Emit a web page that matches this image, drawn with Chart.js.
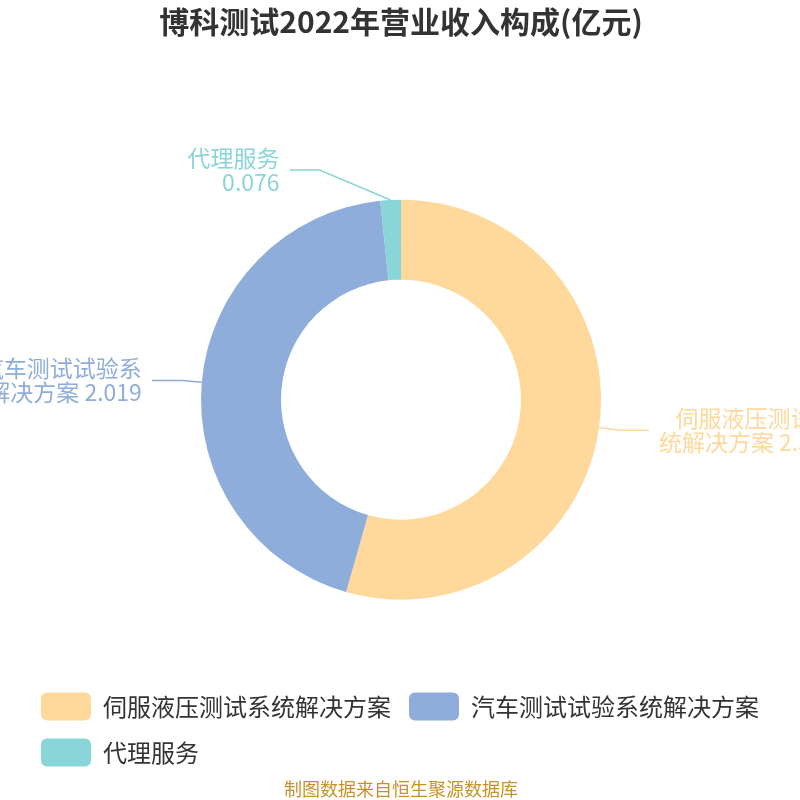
<!DOCTYPE html>
<html>
<head>
<meta charset="utf-8">
<script src="https://cdn.jsdelivr.net/npm/chart.js@4.4.1/dist/chart.umd.min.js"></script>
<style>
    html, body { margin: 0; padding: 0; background: #fff; }
    #wrap { width: 800px; height: 800px; }
</style>
</head>
<body>
<div id="wrap"><canvas id="revenueChart"></canvas></div>
<script>
// Revenue breakdown, 100 million yuan
const categories = ['伺服液压测试系统解决方案', '汽车测试试验系统解决方案', '代理服务'];
const revenue = [2.502, 2.019, 0.076];

const sliceColors = ['#FFD99B', '#8EADDB', '#89D5D8'];
const FONT = '"Noto Sans CJK SC", "Noto Sans", sans-serif';

Chart.defaults.font.family = FONT;

// long names break every 7 chars, value follows on the last line;
// short names get the value on its own line
function labelLines(name, value) {
    if (name.length <= 7) return [name, value];
    const lines = [];
    for (let i = 0; i < name.length; i += 7) lines.push(name.slice(i, i + 7));
    lines[lines.length - 1] += ' ' + value;
    return lines;
}

// outside labels with elbow leader lines
const sliceLabels = {
    id: 'sliceLabels',
    afterDatasetsDraw(chart, args, opts) {
        const ctx = chart.ctx;
        const meta = chart.getDatasetMeta(0);
        const values = chart.data.datasets[0].data;
        ctx.save();
        ctx.font = opts.fontSize + 'px ' + FONT;
        ctx.textBaseline = 'middle';
        meta.data.forEach((arc, i) => {
            const p = arc.getProps(['x', 'y', 'startAngle', 'endAngle', 'outerRadius'], true);
            const mid = (p.startAngle + p.endAngle) / 2;
            const cos = Math.cos(mid), sin = Math.sin(mid);
            const nudge = opts.nudge[i] || { dx: 0, dy: 0 };
            const x0 = p.x + cos * p.outerRadius;
            const y0 = p.y + sin * p.outerRadius;
            const x1 = p.x + cos * (p.outerRadius + opts.len1) + nudge.dx;
            const y1 = p.y + sin * (p.outerRadius + opts.len1) + nudge.dy;
            const side = cos >= 0 ? 1 : -1;
            const x2 = x1 + side * opts.len2;
            const color = sliceColors[i];

            ctx.strokeStyle = color;
            ctx.lineWidth = 1.5;
            ctx.beginPath();
            ctx.moveTo(x0, y0);
            ctx.lineTo(x1, y1);
            ctx.lineTo(x2, y1);
            ctx.stroke();

            const lines = labelLines(chart.data.labels[i], values[i].toFixed(3));
            const blockW = Math.max(...lines.map(l => ctx.measureText(l).width));
            const right = side < 0 ? x2 - opts.gap : x2 + opts.gap + blockW;
            ctx.fillStyle = color;
            ctx.textAlign = 'right';
            lines.forEach((line, k) => {
                ctx.fillText(line, right, y1 + (k - (lines.length - 1) / 2) * opts.lineHeight);
            });
        });
        ctx.restore();
    }
};

new Chart(document.getElementById('revenueChart'), {
    type: 'doughnut',
    data: {
        labels: categories,
        datasets: [{
            data: revenue,
            backgroundColor: sliceColors,
            borderWidth: 0
        }]
    },
    options: {
        responsive: true,
        maintainAspectRatio: false,
        animation: false,
        radius: 200,
        cutout: '60%',
        layout: { padding: { left: 23, right: 21, top: 0, bottom: 0 } },
        plugins: {
            title: {
                display: true,
                text: '博科测试2022年营业收入构成(亿元)',
                color: '#333',
                font: { size: 30, weight: 'bold' },
                padding: { top: 4, bottom: 85 }
            },
            subtitle: {
                display: true,
                position: 'bottom',
                text: '制图数据来自恒生聚源数据库',
                color: '#C8922A',
                font: { size: 18 },
                padding: { top: 2, bottom: 0 }
            },
            legend: {
                position: 'bottom',
                align: 'start',
                labels: {
                    boxWidth: 50,
                    boxHeight: 28,
                    useBorderRadius: true,
                    borderRadius: 6,
                    padding: 18,
                    color: '#333',
                    font: { size: 24 }
                }
            },
            tooltip: { enabled: false },
            sliceLabels: {
                fontSize: 23,
                lineHeight: 24,
                len1: 20,
                len2: 30,
                gap: 10,
                nudge: [null, null, { dx: -70, dy: -10 }]
            }
        }
    },
    plugins: [sliceLabels]
});
</script>
</body>
</html>
